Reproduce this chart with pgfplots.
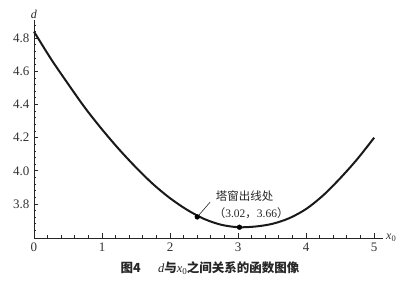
\documentclass[border=0pt]{standalone}
\usepackage{fontspec}
\setmainfont{Liberation Serif}
\newfontfamily\cjk{Noto Sans CJK SC}
\usepackage{pgfplots}
\pgfplotsset{compat=1.18}
\newcommand\tl[1]{{\fontsize{13}{14}\selectfont #1}}
\begin{document}
\begin{tikzpicture}
\path[use as bounding box] (0,0) rectangle (416pt,283pt);
\begin{axis}[
  at={(34pt,45pt)}, anchor=south west,
  scale only axis, width=349pt, height=218pt,
  xmin=0, xmax=5.13, ymin=3.595, ymax=4.91,
  axis lines=left,
  axis line style={-, line width=0.9pt, black!85},
  tick align=inside,
  major tick length=4.5pt, minor tick length=2.5pt,
  every tick/.style={black!85, line width=0.9pt},
  xtick={0,1,2,3,4,5},
  xticklabels={\tl{0},\tl{1},\tl{2},\tl{3},\tl{4},\tl{5}},
  minor xtick={0.2,0.4,0.6,0.8,1.2,1.4,1.6,1.8,2.2,2.4,2.6,2.8,3.2,3.4,3.6,3.8,4.2,4.4,4.6,4.8,5.0},
  ytick={3.8,4.0,4.2,4.4,4.6,4.8},
  yticklabels={\tl{3.8},\tl{4.0},\tl{4.2},\tl{4.4},\tl{4.6},\tl{4.8}},
  minor ytick={3.64,3.68,3.72,3.76,3.84,3.88,3.92,3.96,4.04,4.08,4.12,4.16,4.24,4.28,4.32,4.36,4.44,4.48,4.52,4.56,4.64,4.68,4.72,4.76,4.84,4.88},
  xticklabel style={yshift=-1pt, text=black!80},
  yticklabel style={xshift=-1pt, text=black!80},
  clip=false,
]
\addplot[smooth, line width=2pt, black!90] coordinates {
(0,4.84) (0.25,4.675) (0.5,4.525) (0.75,4.38) (1.0,4.25) (1.25,4.13)
(1.5,4.02) (1.75,3.92) (2.0,3.835) (2.25,3.765) (2.5,3.71) (2.75,3.675)
(3.0,3.66) (3.25,3.664) (3.5,3.68) (3.75,3.714) (4.0,3.77) (4.25,3.852)
(4.5,3.955) (4.75,4.07) (5.0,4.2)
};
\addplot[only marks, mark=*, mark size=2.4pt, black] coordinates {(2.4,3.722) (3.02,3.66)};
\draw[line width=0.6pt, black!85] (axis cs:2.4,3.722) -- (axis cs:2.59,3.812);
\node[anchor=west, inner sep=0pt, font=\cjk\fontsize{11.5}{13}\selectfont, text=black!85] at (axis cs:2.67,3.85) {塔窗出线处};
\node[anchor=west, inner sep=0pt, font=\fontsize{11.5}{13}\selectfont, text=black!85] at (axis cs:2.64,3.745) {{\cjk （}3.02{\cjk ，}3.66{\cjk ）}};
\node[anchor=south, inner sep=1.5pt, font=\itshape\fontsize{12}{13}\selectfont, text=black!85] at (rel axis cs:0,1) {d};
\node[anchor=west, inner sep=3pt, font=\fontsize{12}{13}\selectfont, text=black!80] at (rel axis cs:1,0) {\textit{x}\raisebox{-0.3ex}{\fontsize{8.5}{9}\selectfont 0}};
\end{axis}
\node[anchor=center, font=\fontsize{12.5}{14}\selectfont, text=black!85] at (210pt,15pt) {{\cjk\bfseries 图4}\hspace{1.4em}\textit{d}{\cjk\bfseries 与}\textit{x}\raisebox{-0.3ex}{\fontsize{9}{9}\selectfont 0}{\cjk\bfseries 之间关系的函数图像}};
\end{tikzpicture}
\end{document}
